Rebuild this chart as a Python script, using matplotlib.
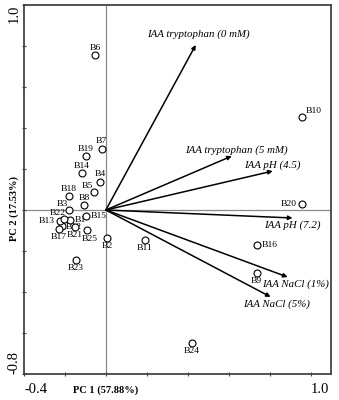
import numpy as np
import matplotlib
matplotlib.use("Agg")
import matplotlib.pyplot as plt
from matplotlib.transforms import blended_transform_factory

plt.rcParams['font.family'] = ['Liberation Serif', 'DejaVu Serif']

# sample scores
samples = ['B1', 'B2', 'B3', 'B4', 'B5', 'B6', 'B7', 'B8', 'B9', 'B10',
           'B11', 'B12', 'B13', 'B14', 'B15', 'B16', 'B17', 'B18', 'B19', 'B20',
           'B21', 'B22', 'B23', 'B24', 'B25']
pc1 = [-0.176, 0.005, -0.180, -0.029, -0.059, -0.054, -0.020, -0.107, 0.737, 0.956,
       0.190, -0.215, -0.224, -0.117, -0.098, 0.737, -0.229, -0.180, -0.098, 0.956,
       -0.151, -0.205, -0.146, 0.420, -0.093]
pc2 = [-0.049, -0.137, 0.000, 0.137, 0.088, 0.756, 0.298, 0.024, -0.307, 0.454,
       -0.146, -0.078, -0.054, 0.180, -0.029, -0.171, -0.093, 0.068, 0.263, 0.029,
       -0.083, -0.044, -0.244, -0.649, -0.098]

# variable loadings
variables = ['IAA tryptophan (0 mM)', 'IAA tryptophan (5 mM)', 'IAA pH (4.5)',
             'IAA pH (7.2)', 'IAA NaCl (1%)', 'IAA NaCl (5%)']
load1 = [0.439, 0.615, 0.815, 0.912, 0.888, 0.805]
load2 = [0.805, 0.263, 0.190, -0.039, -0.327, -0.424]

xticks = [-0.4, -0.2, 0.0, 0.2, 0.4, 0.6, 0.8, 1.0]
yticks = [-0.8, -0.6, -0.4, -0.2, 0.0, 0.2, 0.4, 0.6, 0.8, 1.0]

# where each sample label goes relative to its circle
place = {'B6': 'up', 'B7': 'up', 'B19': 'up', 'B14': 'up', 'B4': 'up', 'B18': 'up', 'B8': 'up',
         'B5': 'ul', 'B3': 'ul', 'B22': 'ul',
         'B13': 'left', 'B20': 'left',
         'B1': 'right', 'B15': 'right', 'B16': 'right', 'B12': 'tight',
         'B10': 'ur', 'B25': 'dr', 'B21': 'dl'}
offs = {'up': ((0, 2.5), 'center', 'bottom'),
        'down': ((0, -3), 'center', 'top'),
        'dr': ((2, -3.5), 'center', 'top'),
        'dl': ((-0.5, -3), 'center', 'top'),
        'left': ((-3.5, 0), 'right', 'center'),
        'right': ((3.5, 0), 'left', 'center'),
        'tight': ((2.5, -0.5), 'left', 'center'),
        'ul': ((-4.5, 1.5), 'center', 'bottom'),
        'ur': ((3, 1.5), 'left', 'bottom')}

# arrow label offsets (points) and alignment
var_off = [((2, 4), 'center', 'bottom'),
           ((3, 1), 'center', 'bottom'),
           ((0, 1), 'center', 'bottom'),
           ((0, -2), 'center', 'top'),
           ((6, -2), 'center', 'top'),
           ((4, -2), 'center', 'top')]

fig = plt.figure(figsize=(3.39, 4.0), dpi=100)
ax = fig.add_axes([0.0708, 0.065, 0.9056, 0.9225])

ax.axhline(0, color='#8a8a8a', lw=0.9, zorder=1)
ax.axvline(0, color='#8a8a8a', lw=0.9, zorder=1)

for name, tx, ty, (dxy, ha, va) in zip(variables, load1, load2, var_off):
    ax.annotate('', xy=(tx, ty), xytext=(0, 0),
                arrowprops=dict(arrowstyle='-|>', color='black', lw=1.1,
                                mutation_scale=6, shrinkA=0, shrinkB=0))
    ax.annotate(name, xy=(tx, ty), xytext=dxy, textcoords='offset points',
                ha=ha, va=va, fontsize=7.8, style='italic')

# labels first, circles drawn on top (white fill hides crowded labels as in the original)
for s, x, y in zip(samples, pc1, pc2):
    dxy, ha, va = offs[place.get(s, 'down')]
    ax.annotate(s, xy=(x, y), xytext=dxy, textcoords='offset points',
                ha=ha, va=va, fontsize=6.8, zorder=2)
ax.plot(pc1, pc2, 'o', ms=5, mfc='white', mec='black', mew=0.8, zorder=3)

ax.set_xlim(-0.4, 1.1)
ax.set_ylim(-0.8, 1.0)
ax.set_xticks(xticks)
ax.set_xticklabels(['-0.4'] + [''] * 6 + ['1.0'])
ax.set_yticks(yticks)
ax.set_yticklabels(['-0.8'] + [''] * 8 + ['1.0'])
ax.tick_params(direction='inout', length=3, width=0.8, color='#444', labelsize=10.5)
ax.tick_params(axis='x', pad=5)
ax.tick_params(axis='y', pad=1)
for lab in ax.get_xticklabels():
    lab.set_ha('left')
ylabs = ax.get_yticklabels()
for lab in ylabs:
    lab.set_rotation(90)
ylabs[0].set_va('bottom')
ylabs[-1].set_va('top')

for sp in ax.spines.values():
    sp.set_color('#444')
    sp.set_linewidth(1.3)

tr_x = blended_transform_factory(ax.transData, ax.transAxes)
ax.annotate('PC 1 (57.88%)', xy=(0, 0), xycoords=tr_x, xytext=(0, -11.5),
            textcoords='offset points', ha='center', va='center',
            fontsize=7.5, fontweight='bold')
tr_y = blended_transform_factory(ax.transAxes, ax.transData)
ax.annotate('PC 2 (17.53%)', xy=(0, 0), xycoords=tr_y, xytext=(-7, 1),
            textcoords='offset points', ha='center', va='center',
            rotation=90, fontsize=7.5, fontweight='bold')

fig.savefig('out.png', dpi=100)
